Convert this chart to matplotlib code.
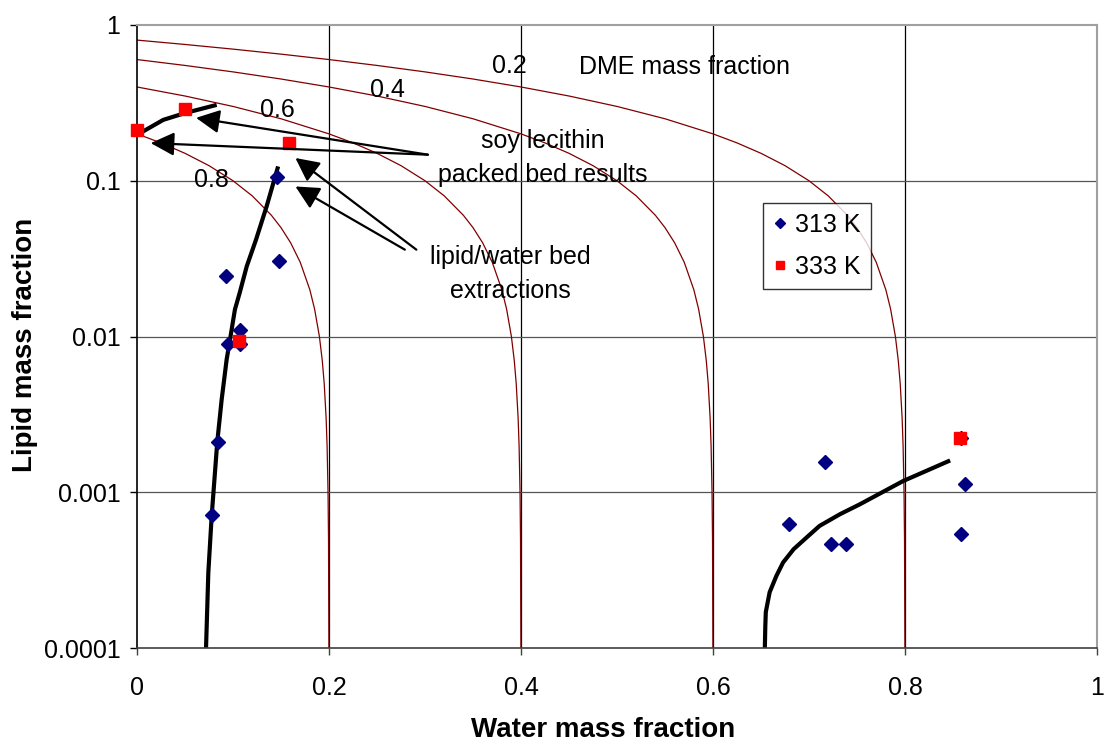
import matplotlib.pyplot as plt
import numpy as np

plt.rcParams['font.family'] = ['Liberation Sans', 'DejaVu Sans']

# measured points, 313 K
water_313 = [0.093, 0.148, 0.107, 0.095, 0.107, 0.084, 0.078, 0.146,
             0.858, 0.717, 0.862, 0.679, 0.723, 0.739, 0.858]
lipid_313 = [0.0244, 0.0307, 0.0110, 0.0089, 0.0090, 0.0021, 0.00071, 0.106,
             0.00222, 0.00156, 0.00113, 0.000624, 0.000468, 0.000468, 0.000537]

# measured points, 333 K
water_333 = [0.0, 0.050, 0.158, 0.106, 0.857]
lipid_333 = [0.212, 0.288, 0.174, 0.0093, 0.00224]

# hand drawn trend curves
trend1_w = [0.0719, 0.0743, 0.0778, 0.0836, 0.0882, 0.0934, 0.0969, 0.102, 0.107, 0.1143,
            0.124, 0.135, 0.147]
trend1_l = [0.0001, 0.000305, 0.000705, 0.0021, 0.00394, 0.00713, 0.00957, 0.0149, 0.0191,
            0.0282, 0.0419, 0.0684, 0.1236]
trend2_w = [0.0, 0.0274, 0.05, 0.083]
trend2_l = [0.197, 0.246, 0.272, 0.307]
trend3_w = [0.654, 0.6545, 0.655, 0.659, 0.666, 0.673, 0.684, 0.6976, 0.711, 0.7323, 0.753,
            0.798, 0.847]
trend3_l = [0.0001, 0.000139, 0.00017, 0.000228, 0.00029, 0.000354, 0.000431, 0.000513,
            0.000608, 0.000723, 0.000837, 0.00118, 0.0016]

# DME mass fraction lines
dme08_w = [0, 0.025, 0.05, 0.075, 0.1, 0.12, 0.14, 0.15, 0.16, 0.17, 0.18, 0.185, 0.19, 0.193,
           0.195, 0.197, 0.198, 0.199, 0.1995, 0.1999, 0.19999]
dme08_l = [0.2, 0.175, 0.15, 0.125, 0.1, 0.08, 0.06, 0.05, 0.04, 0.03, 0.02, 0.015, 0.01, 0.007,
           0.005, 0.003, 0.002, 0.001, 0.0005, 0.0001, 0.00001]
dme06_w = [0, 0.05, 0.1, 0.15, 0.2, 0.225, 0.25, 0.275, 0.3, 0.32, 0.34, 0.35, 0.36, 0.37, 0.38,
           0.385, 0.39, 0.393, 0.395, 0.397, 0.398, 0.399, 0.3995, 0.3999, 0.39999]
dme06_l = [0.4, 0.35, 0.3, 0.25, 0.2, 0.175, 0.15, 0.125, 0.1, 0.08, 0.06, 0.05, 0.04, 0.03, 0.02,
           0.015, 0.01, 0.007, 0.005, 0.003, 0.002, 0.001, 0.0005, 0.0001, 0.00001]
dme04_w = [0, 0.05, 0.1, 0.15, 0.2, 0.25, 0.3, 0.35, 0.4, 0.425, 0.45, 0.475, 0.5, 0.52, 0.54,
           0.55, 0.56, 0.57, 0.58, 0.585, 0.59, 0.593, 0.595, 0.597, 0.598, 0.599, 0.5995,
           0.5999, 0.59999]
dme04_l = [0.6, 0.55, 0.5, 0.45, 0.4, 0.35, 0.3, 0.25, 0.2, 0.175, 0.15, 0.125, 0.1, 0.08, 0.06,
           0.05, 0.04, 0.03, 0.02, 0.015, 0.01, 0.007, 0.005, 0.003, 0.002, 0.001, 0.0005,
           0.0001, 0.00001]
dme02_w = [0, 0.05, 0.1, 0.15, 0.2, 0.25, 0.3, 0.35, 0.4, 0.45, 0.5, 0.55, 0.6, 0.625, 0.65,
           0.675, 0.7, 0.72, 0.74, 0.75, 0.76, 0.77, 0.78, 0.785, 0.79, 0.793, 0.795, 0.797,
           0.798, 0.799, 0.7995, 0.7999, 0.79999]
dme02_l = [0.8, 0.75, 0.7, 0.65, 0.6, 0.55, 0.5, 0.45, 0.4, 0.35, 0.3, 0.25, 0.2, 0.175, 0.15,
           0.125, 0.1, 0.08, 0.06, 0.05, 0.04, 0.03, 0.02, 0.015, 0.01, 0.007, 0.005, 0.003,
           0.002, 0.001, 0.0005, 0.0001, 0.00001]

x_ticks = [0, 0.2, 0.4, 0.6, 0.8, 1]
x_tick_labels = ['0', '0.2', '0.4', '0.6', '0.8', '1']
y_ticks = [0.0001, 0.001, 0.01, 0.1, 1]
y_tick_labels = ['0.0001', '0.001', '0.01', '0.1', '1']

fig = plt.figure(figsize=(11.04, 7.42), dpi=100)
ax = fig.add_axes([137 / 1104, 94 / 742, 960 / 1104, 623 / 742])
ax.set_yscale('log')
ax.set_xlim(0, 1)
ax.set_ylim(0.0001, 1)

# grid
for gx in x_ticks[1:-1]:
    ax.axvline(gx, color='black', lw=0.9, zorder=0)
for gy in y_ticks[1:-1]:
    ax.axhline(gy, color='#555555', lw=0.9, zorder=0)

dark_red = '#800000'
for w, l in [(dme08_w, dme08_l), (dme06_w, dme06_l), (dme04_w, dme04_l), (dme02_w, dme02_l)]:
    ax.plot(w, l, color=dark_red, lw=0.9, zorder=1)

for w, l in [(trend1_w, trend1_l), (trend2_w, trend2_l), (trend3_w, trend3_l)]:
    ax.plot(w, l, color='black', lw=3, solid_capstyle='butt', solid_joinstyle='round', zorder=2)

ax.plot(water_313, lipid_313, 'D', color='#000080', ms=7, mec='#000080', ls='none',
        label='313 K', zorder=3, clip_on=False)
ax.plot(water_333, lipid_333, 's', color='#ff0000', ms=8, mec='#ff0000', ls='none',
        label='333 K', zorder=4, clip_on=False)

# arrows
arrow_tails = [(0.303, 0.147), (0.303, 0.147), (0.291, 0.0361), (0.279, 0.0361)]
arrow_tips = [(0.0615, 0.2535), (0.0143, 0.1745), (0.165, 0.14), (0.165, 0.0919)]
for tail, tip in zip(arrow_tails, arrow_tips):
    ax.annotate('', xy=tip, xytext=tail,
                arrowprops=dict(arrowstyle='-|>,head_length=0.4,head_width=0.2',
                                mutation_scale=36, color='black', lw=1.6,
                                shrinkA=0, shrinkB=0), zorder=5)

fs = 18
ax.text(0.3875, 0.492, '0.2', fontsize=fs, ha='center', va='baseline')
ax.text(0.570, 0.485, 'DME mass fraction', fontsize=fs, ha='center', va='baseline')
ax.text(0.261, 0.3455, '0.4', fontsize=fs, ha='center', va='baseline')
ax.text(0.1464, 0.257, '0.6', fontsize=fs, ha='center', va='baseline')
ax.text(0.0776, 0.0916, '0.8', fontsize=fs, ha='center', va='baseline')
ax.text(0.4229, 0.162, 'soy lecithin', fontsize=fs, ha='center', va='baseline')
ax.text(0.4227, 0.0975, 'packed bed results', fontsize=fs, ha='center', va='baseline')
ax.text(0.389, 0.029, 'lipid/water bed', fontsize=fs, ha='center', va='baseline')
ax.text(0.389, 0.0177, 'extractions', fontsize=fs, ha='center', va='baseline')

ax.set_xticks(x_ticks)
ax.set_xticklabels(x_tick_labels)
ax.set_yticks(y_ticks)
ax.set_yticklabels(y_tick_labels)
ax.minorticks_off()
ax.tick_params(axis='x', direction='out', length=5, width=1, pad=15, labelsize=fs, color='#404040')
ax.tick_params(axis='y', direction='out', length=5, width=1, pad=7, labelsize=fs, color='black')

ax.spines['left'].set_color('black')
ax.spines['left'].set_linewidth(1.2)
ax.spines['bottom'].set_color('#404040')
ax.spines['bottom'].set_linewidth(1.2)
for s in ['top', 'right']:
    ax.spines[s].set_color('#a0a0a0')
    ax.spines[s].set_linewidth(1.5)

leg = ax.legend(loc='upper left', bbox_to_anchor=(0.652, 0.714), fontsize=fs,
                frameon=True, fancybox=False, edgecolor='black', borderaxespad=0,
                handlelength=0.55, handletextpad=0.35, borderpad=0.4, labelspacing=0.7,
                markerscale=0.8)
leg.get_frame().set_linewidth(1)

fig.text(603 / 1104, 1 - 737 / 742, 'Water mass fraction', fontsize=20, fontweight='bold',
         ha='center', va='baseline')
fig.text(25 / 1104, 1 - 345 / 742, 'Lipid mass fraction', fontsize=20, fontweight='bold',
         ha='center', va='center', rotation=90)

fig.savefig('out.png', dpi=100)
